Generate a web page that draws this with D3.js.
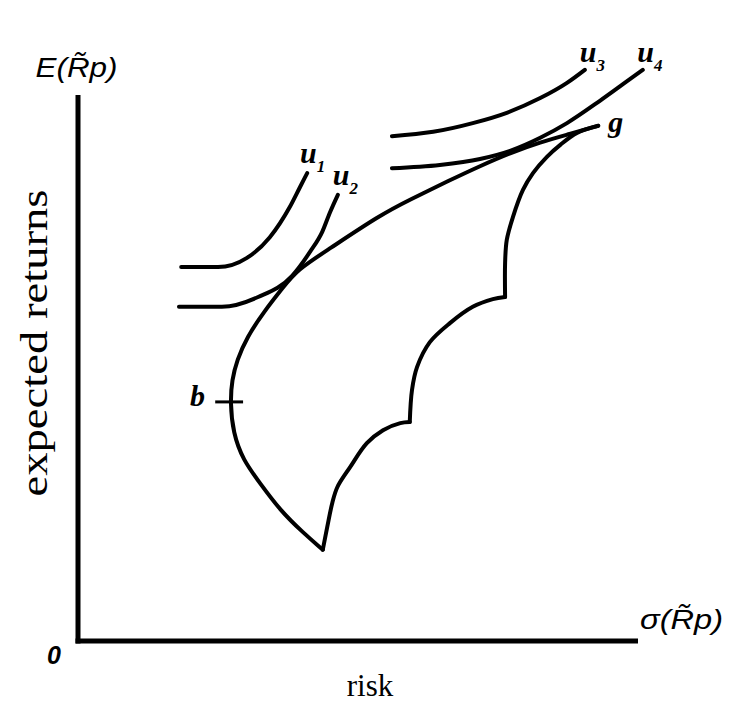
<!DOCTYPE html>
<html>
<head>
<meta charset="utf-8">
<script src="https://cdn.jsdelivr.net/npm/d3@7"></script>
<style>
  html, body { margin: 0; padding: 0; background: #ffffff; }
  svg { display: block; }
</style>
</head>
<body>
<svg id="chart" width="743" height="709"></svg>
<script>
// ---- data (risk on x, expected return on y, arbitrary units 0..100) ----
// efficient / minimum-variance frontier: from the bottom cusp up through b to g
const frontierRisk   = [44.0, 40.5, 36.3, 32.7, 29.7, 27.9, 27.4, 27.7, 28.6, 30.4, 33.3, 36.9, 39.4, 44.8, 54.3, 59.6, 66.8, 72.2, 77.6, 83.0, 88.3, 93.4];
const frontierReturn = [16.7, 19.8, 24.0, 29.0, 33.2, 38.2, 43.9, 47.9, 51.6, 55.8, 60.3, 65.0, 68.2, 71.8, 78.3, 81.1, 84.7, 87.3, 89.7, 91.7, 93.2, 94.7];
// right-hand (scalloped) boundary of the opportunity set, three arcs
const arc1Risk   = [93.4, 89.6, 86.6, 84.2, 81.7, 79.9, 78.1, 77.0, 76.7, 76.7];
const arc1Return = [94.7, 93.4, 91.2, 89.0, 86.0, 82.9, 77.9, 73.7, 69.5, 63.2];
const arc2Risk   = [76.7, 74.5, 70.9, 66.8, 63.2, 60.9, 60.0, 59.6];
const arc2Return = [63.2, 62.8, 61.4, 58.4, 54.9, 50.3, 46.1, 40.2];
const arc3Risk   = [59.6, 57.9, 54.8, 51.9, 48.9, 46.6, 45.7, 44.8, 44.0];
const arc3Return = [40.2, 40.0, 38.7, 36.3, 31.9, 28.2, 25.3, 20.9, 16.7];
// indifference curves
const u1Risk   = [18.6, 25.2, 30.4, 34.5, 38.1, 39.9, 41.2];
const u1Return = [68.7, 68.7, 70.4, 74.2, 79.8, 83.4, 86.0];
const u2Risk   = [18.2, 25.9, 32.4, 38.5, 41.7, 43.9, 45.3, 46.7];
const u2Return = [61.4, 61.4, 63.2, 67.1, 71.5, 75.2, 78.8, 82.0];
const u3Risk   = [56.4, 63.8, 70.9, 77.0, 83.0, 87.8, 91.0];
const u3Return = [92.8, 93.6, 95.2, 97.1, 99.8, 102.6, 105.0];
const u4Risk   = [56.4, 65.0, 72.2, 77.6, 83.0, 87.8, 93.7, 97.9, 101.4];
const u4Return = [86.9, 87.5, 88.6, 90.1, 92.5, 95.2, 99.3, 102.4, 105.0];
// point b: minimum-variance portfolio tick
const bTickRisk = [24.7, 29.7];
const bTickReturn = [43.9, 43.9];
// curve labels (main letter, subscript, anchor in data units)
const labelText = ["u", "u", "u", "u", "g", "b"];
const labelSub  = ["1", "2", "3", "4", "", ""];
const labelRisk   = [39.9, 45.8, 90.1, 100.4, 95.2, 20.2];
const labelReturn = [87.9, 83.8, 106.4, 106.4, 93.6, 43.1];
// axis texts
const yTitle = "E(R\u0303p)";
const xTitle = "\u03C3(R\u0303p)";
const yLabel = "expected returns";
const xLabel = "risk";
const originLabel = "0";

// ---- drawing ----
const svg = d3.select("#chart");
const x = d3.scaleLinear().domain([0, 100]).range([77.5, 635]);
const y = d3.scaleLinear().domain([0, 100]).range([640.5, 97]);

const zip = (xs, ys) => xs.map((v, i) => [v, ys[i]]);

// axes (no ticks, just the domain lines)
const xAxis = svg.append("g").attr("transform", `translate(0,${y(0)})`)
  .call(d3.axisBottom(x).ticks(0).tickSizeOuter(0));
const yAxis = svg.append("g").attr("transform", `translate(${x(0)},0)`)
  .call(d3.axisLeft(y).ticks(0).tickSizeOuter(0));
[xAxis, yAxis].forEach(a => a.select(".domain")
  .attr("stroke", "#000").attr("stroke-width", 5).attr("stroke-linecap", "square"));

const lineBasis = d3.line().x(d => x(d[0])).y(d => y(d[1])).curve(d3.curveBasis);
const lineSmooth = d3.line().x(d => x(d[0])).y(d => y(d[1])).curve(d3.curveCatmullRom.alpha(0.5));
const lineMono = d3.line().x(d => x(d[0])).y(d => y(d[1])).curve(d3.curveMonotoneX);
const lineStraight = d3.line().x(d => x(d[0])).y(d => y(d[1]));

const strokeCurve = sel => sel.attr("fill", "none").attr("stroke", "#000")
  .attr("stroke-width", 4).attr("stroke-linecap", "round").attr("stroke-linejoin", "round");

svg.append("path").attr("d", lineBasis(zip(frontierRisk, frontierReturn))).call(strokeCurve);
[[arc1Risk, arc1Return], [arc2Risk, arc2Return], [arc3Risk, arc3Return]]
  .forEach(([xs, ys]) => svg.append("path").attr("d", lineSmooth(zip(xs, ys))).call(strokeCurve));

[[u1Risk, u1Return], [u2Risk, u2Return], [u3Risk, u3Return], [u4Risk, u4Return]]
  .forEach(([xs, ys]) => svg.append("path").attr("d", lineMono(zip(xs, ys))).call(strokeCurve));

svg.append("path").attr("d", lineStraight(zip(bTickRisk, bTickReturn)))
  .attr("stroke", "#000").attr("stroke-width", 3).attr("fill", "none");

// curve labels
labelText.forEach((t, i) => {
  const txt = svg.append("text")
    .attr("x", x(labelRisk[i])).attr("y", y(labelReturn[i]))
    .attr("font-family", "'Liberation Serif', 'Times New Roman', serif")
    .attr("font-style", "italic").attr("font-weight", "bold")
    .attr("font-size", 30).attr("fill", "#000");
  txt.append("tspan").text(t);
  if (labelSub[i]) txt.append("tspan").attr("dy", 9).attr("font-size", 17).text(labelSub[i]);
});

// axis titles
svg.append("text").attr("x", x(0) - 1).attr("y", 77)
  .attr("text-anchor", "middle")
  .attr("font-family", "'Liberation Sans', Arial, sans-serif").attr("font-style", "italic")
  .attr("font-size", 28).attr("textLength", 82).attr("lengthAdjust", "spacingAndGlyphs")
  .text(yTitle);
svg.append("text").attr("x", x(100) + 5).attr("y", 629)
  .attr("font-family", "'Liberation Sans', Arial, sans-serif").attr("font-style", "italic")
  .attr("font-size", 28).attr("textLength", 83).attr("lengthAdjust", "spacingAndGlyphs")
  .text(xTitle);
svg.append("text").attr("x", 47).attr("y", 664)
  .attr("font-family", "'Liberation Sans', Arial, sans-serif").attr("font-style", "italic")
  .attr("font-weight", "bold").attr("font-size", 25).text(originLabel);
svg.append("text").attr("x", 370).attr("y", 696).attr("text-anchor", "middle")
  .attr("font-family", "'Liberation Serif', 'Times New Roman', serif")
  .attr("font-size", 31).text(xLabel);
svg.append("text").attr("transform", "translate(47,343) rotate(-90)")
  .attr("text-anchor", "middle")
  .attr("font-family", "'Liberation Serif', 'Times New Roman', serif")
  .attr("font-size", 38).attr("textLength", 307).attr("lengthAdjust", "spacingAndGlyphs")
  .text(yLabel);
</script>
</body>
</html>
